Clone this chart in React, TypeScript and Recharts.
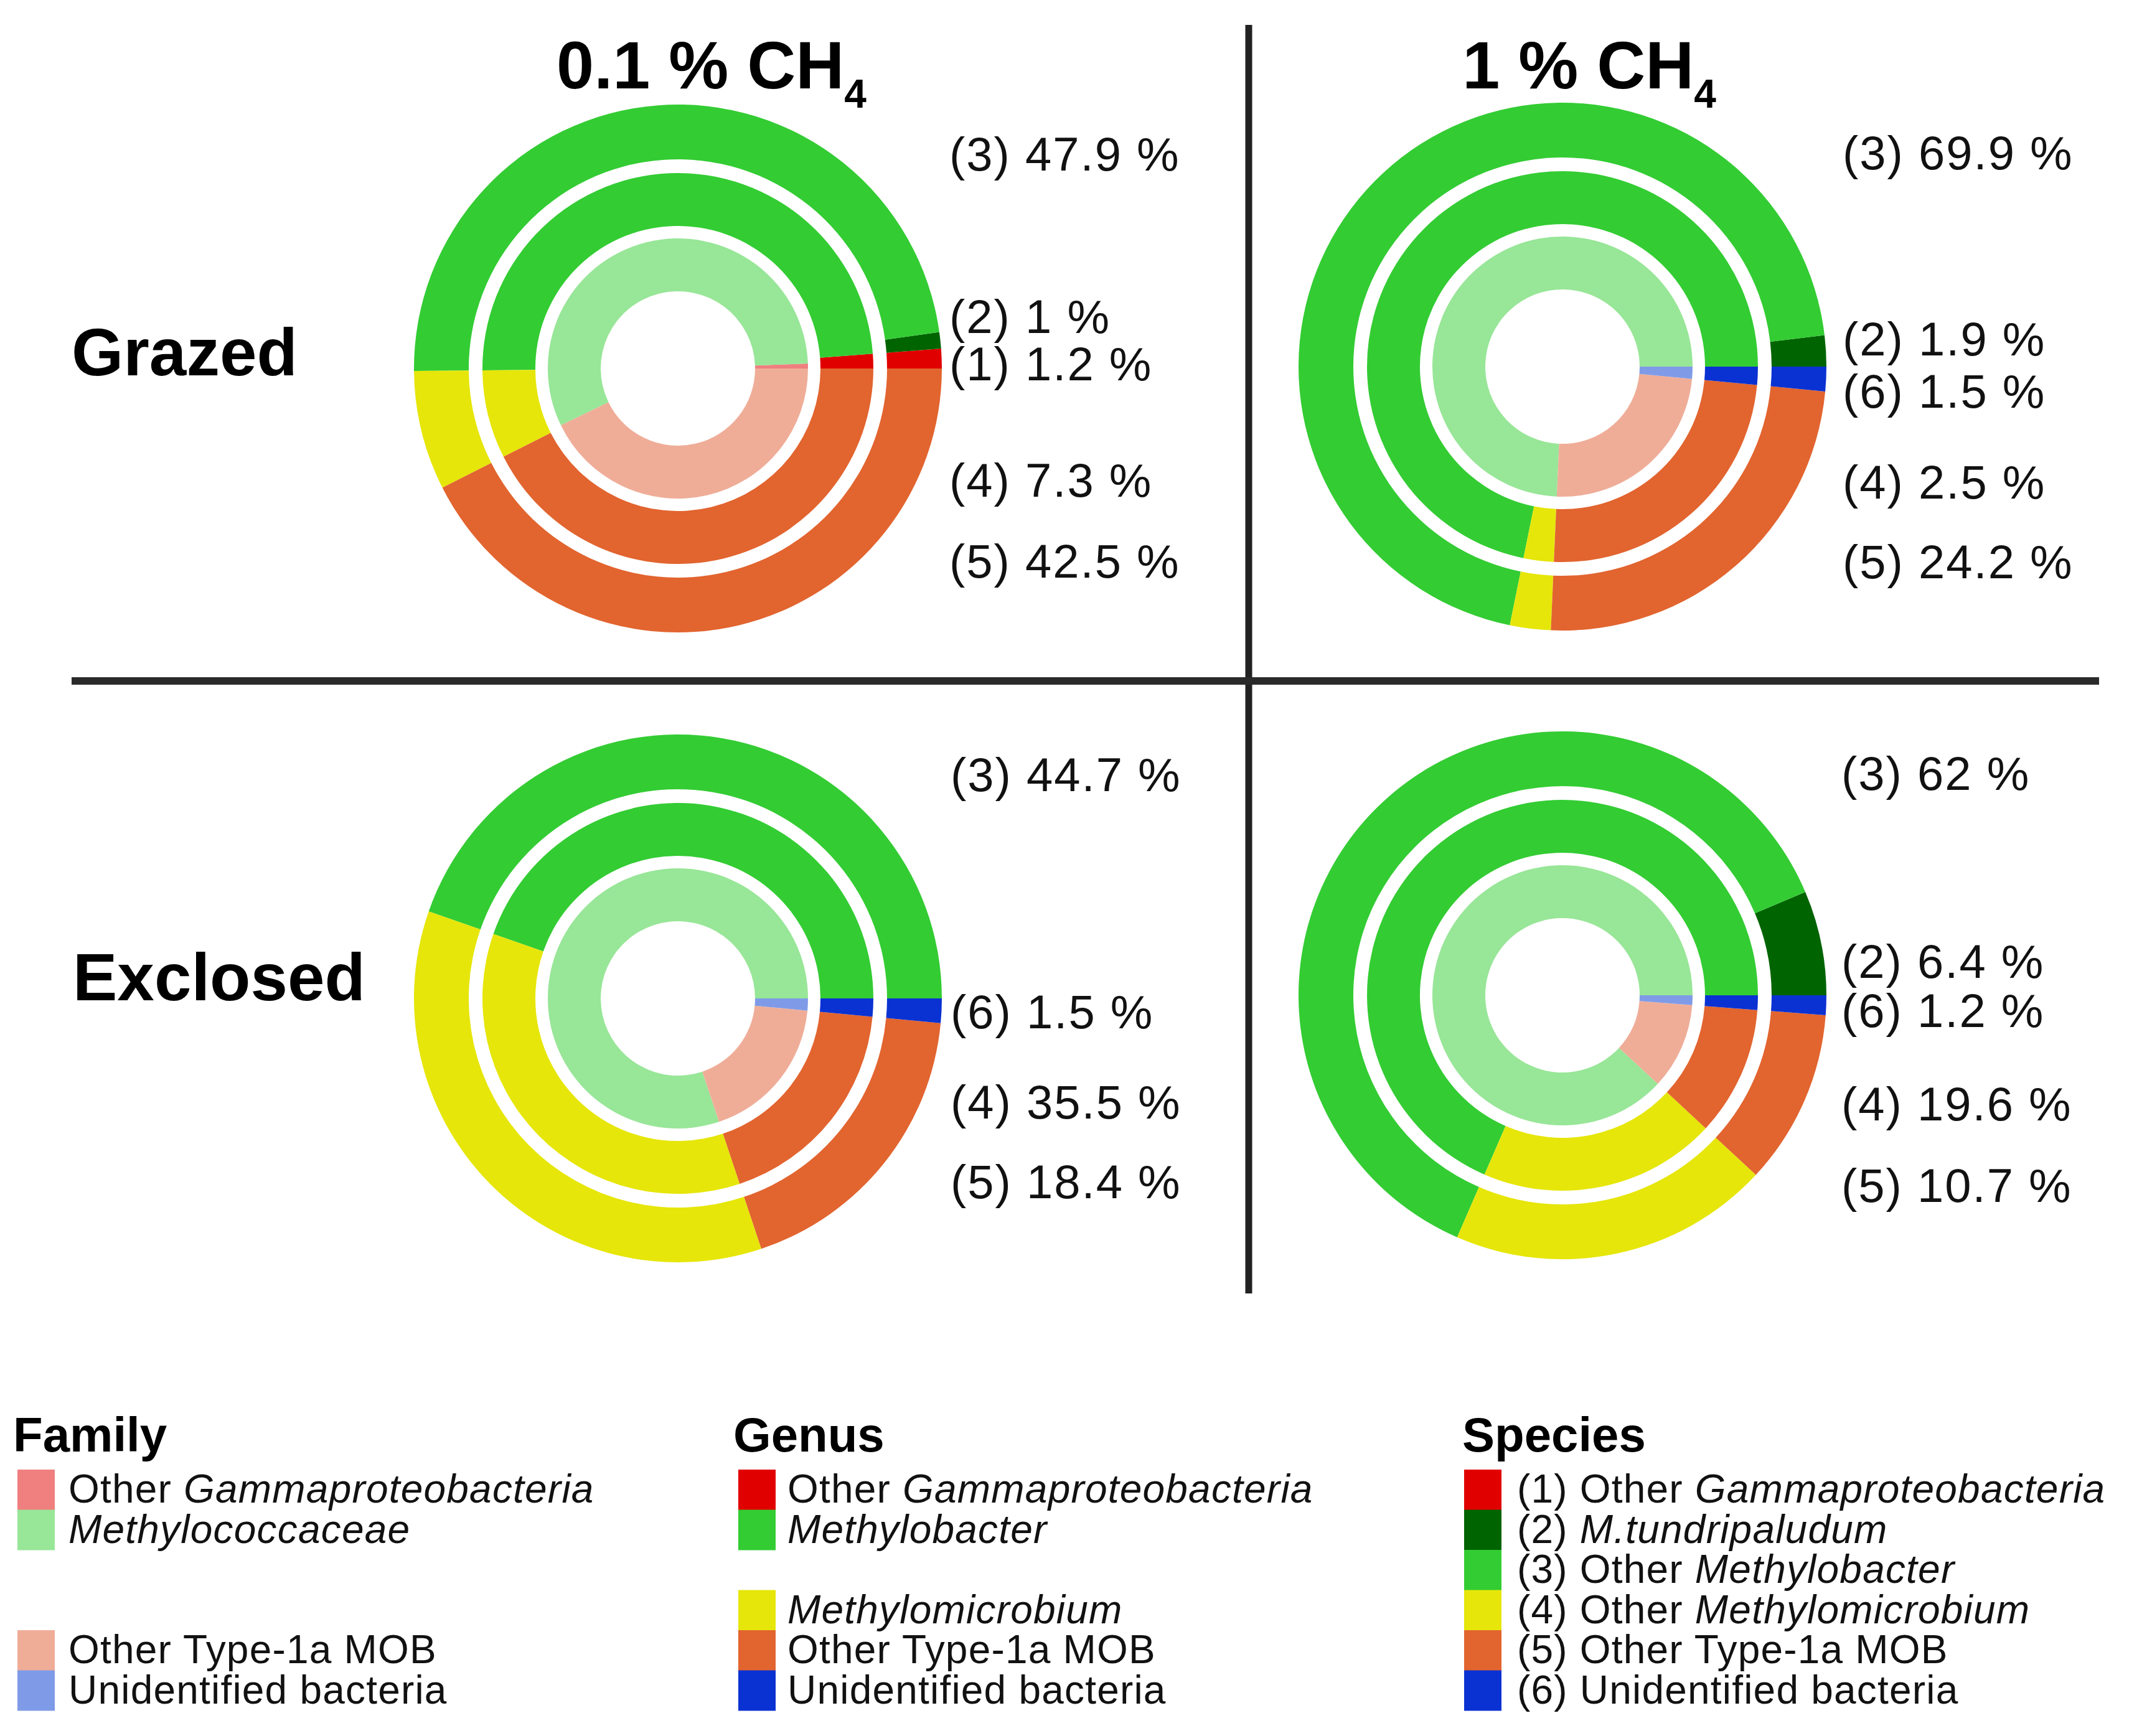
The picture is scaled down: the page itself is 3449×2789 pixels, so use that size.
import React from 'react';
import { PieChart, Pie, Cell } from 'recharts';

const W = 3449;
const H = 2789;
const FONT = '"Liberation Sans", Arial, Helvetica, sans-serif';

// ---- categories ----
const familyNames = ['Other Gammaproteobacteria', 'Methylococcaceae', 'Other Type-1a MOB', 'Unidentified bacteria'];
const familyColors = ['#f07f7f', '#98e698', '#efad98', '#7f9be8'];

const genusNames = ['Other Gammaproteobacteria', 'Methylobacter', 'Methylomicrobium', 'Other Type-1a MOB', 'Unidentified bacteria'];
const genusColors = ['#e00000', '#33cc33', '#e6e60a', '#e2642f', '#0a32d2'];

const speciesNames = [
  '(1) Other Gammaproteobacteria',
  '(2) M.tundripaludum',
  '(3) Other Methylobacter',
  '(4) Other Methylomicrobium',
  '(5) Other Type-1a MOB',
  '(6) Unidentified bacteria',
];
const speciesColors = ['#e00000', '#006400', '#33cc33', '#e6e60a', '#e2642f', '#0a32d2'];

// ---- values (%) ----
const grazed01Species = [1.2, 1, 47.9, 7.3, 42.5, 0];
const grazed1Species = [0, 1.9, 69.9, 2.5, 24.2, 1.5];
const exclosed01Species = [0, 0, 44.7, 35.5, 18.4, 1.5];
const exclosed1Species = [0, 6.4, 62, 19.6, 10.7, 1.2];

const grazed01Genus = [1.2, 48.9, 7.3, 42.5, 0];
const grazed1Genus = [0, 71.8, 2.5, 24.2, 1.5];
const exclosed01Genus = [0, 44.7, 35.5, 18.4, 1.5];
const exclosed1Genus = [0, 68.4, 19.6, 10.7, 1.2];

const grazed01Family = [0.6, 56.2, 42.5, 0];
const grazed1Family = [0, 74.3, 24.2, 1.5];
const exclosed01Family = [0, 80.2, 18.4, 1.5];
const exclosed1Family = [0, 88.0, 10.7, 1.2];

const columnTitles = ['0.1 % CH', '1 % CH'];
const rowTitles = ['Grazed', 'Exclosed'];

// ---- layout (positions only) ----
const RINGS = {
  inner: [124, 209],
  middle: [229, 314],
  outer: [336, 424],
};

const panels = [
  { cx: 1089, cy: 592, species: grazed01Species, genus: grazed01Genus, family: grazed01Family, labelX: 1525, labelY: [584, 508, 247, 771, 901, 0] },
  { cx: 2510, cy: 589, species: grazed1Species, genus: grazed1Genus, family: grazed1Family, labelX: 2960, labelY: [0, 544, 245, 774, 902, 628] },
  { cx: 1089, cy: 1604, species: exclosed01Species, genus: exclosed01Genus, family: exclosed01Family, labelX: 1527, labelY: [0, 0, 1244, 1770, 1898, 1625] },
  { cx: 2510, cy: 1599, species: exclosed1Species, genus: exclosed1Genus, family: exclosed1Family, labelX: 2958, labelY: [0, 1544, 1242, 1773, 1904, 1623] },
];

const toData = (names: string[], values: number[], colors: string[]) =>
  names.map((n, i) => ({ name: n, value: values[i], color: colors[i] }));

function renderItalic(text: string) {
  const italicWords = ['Gammaproteobacteria', 'Methylococcaceae', 'Methylobacter', 'Methylomicrobium', 'M.tundripaludum'];
  for (const w of italicWords) {
    const idx = text.indexOf(w);
    if (idx >= 0) {
      return (
        <>
          <tspan>{text.slice(0, idx)}</tspan>
          <tspan fontStyle="italic">{w}</tspan>
          <tspan>{text.slice(idx + w.length)}</tspan>
        </>
      );
    }
  }
  return <tspan>{text}</tspan>;
}

const LEG_TOP = 2361;
const ROW_H = 64.5;
const legendCols = [
  { title: 'Family', titleX: 21, swX: 28, textX: 110, names: familyNames, colors: familyColors, rows: [0, 1, 4, 5] },
  { title: 'Genus', titleX: 1178, swX: 1186, textX: 1265, names: genusNames, colors: genusColors, rows: [0, 1, 3, 4, 5] },
  { title: 'Species', titleX: 2349, swX: 2352, textX: 2437, names: speciesNames, colors: speciesColors, rows: [0, 1, 2, 3, 4, 5] },
];

export default function App() {
  return (
    <div style={{ position: 'absolute', left: 0, top: 0, width: W, height: H, background: '#fff' }}>
      <PieChart width={W} height={H} margin={{ top: 0, right: 0, bottom: 0, left: 0 }}>
        {panels.map((p, pi) => [
          <Pie
            key={`f${pi}`}
            data={toData(familyNames, p.family, familyColors)}
            dataKey="value"
            cx={p.cx}
            cy={p.cy}
            innerRadius={RINGS.inner[0]}
            outerRadius={RINGS.inner[1]}
            startAngle={0}
            endAngle={360}
            stroke="none"
            isAnimationActive={false}
          >
            {familyColors.map((c, i) => (
              <Cell key={i} fill={c} />
            ))}
          </Pie>,
          <Pie
            key={`g${pi}`}
            data={toData(genusNames, p.genus, genusColors)}
            dataKey="value"
            cx={p.cx}
            cy={p.cy}
            innerRadius={RINGS.middle[0]}
            outerRadius={RINGS.middle[1]}
            startAngle={0}
            endAngle={360}
            stroke="none"
            isAnimationActive={false}
          >
            {genusColors.map((c, i) => (
              <Cell key={i} fill={c} />
            ))}
          </Pie>,
          <Pie
            key={`s${pi}`}
            data={toData(speciesNames, p.species, speciesColors)}
            dataKey="value"
            cx={p.cx}
            cy={p.cy}
            innerRadius={RINGS.outer[0]}
            outerRadius={RINGS.outer[1]}
            startAngle={0}
            endAngle={360}
            stroke="none"
            isAnimationActive={false}
          >
            {speciesColors.map((c, i) => (
              <Cell key={i} fill={c} />
            ))}
          </Pie>,
        ])}
      </PieChart>

      <svg
        width={W}
        height={H}
        style={{ position: 'absolute', left: 0, top: 0, pointerEvents: 'none' }}
        fontFamily={FONT}
      >
        {/* divider lines */}
        <line x1={2006} y1={40} x2={2006} y2={2078} stroke="#222" strokeWidth={11} />
        <line x1={115} y1={1094} x2={3372} y2={1094} stroke="#2a2a2a" strokeWidth={12} />

        {/* column titles */}
        {columnTitles.map((t, i) => (
          <text key={t} x={i === 0 ? 1143 : 2553} y={142} textAnchor="middle" fontSize={108} fontWeight="bold" fill="#000">
            {t}
            <tspan fontSize={64} dy={31}>4</tspan>
          </text>
        ))}

        {/* row titles */}
        {rowTitles.map((t, i) => (
          <text key={t} x={i === 0 ? 115 : 117} y={i === 0 ? 603 : 1607} fontSize={107} fontWeight="bold" fill="#000">
            {t}
          </text>
        ))}

        {/* species labels */}
        {panels.map((p, pi) =>
          p.species.map((v, si) =>
            v > 0 ? (
              <text
                key={`l${pi}-${si}`}
                x={p.labelX}
                y={p.labelY[si]}
                dominantBaseline="central"
                fontSize={76}
                letterSpacing={2}
                fill="#111"
              >
                {`(${si + 1}) ${v} %`}
              </text>
            ) : null
          )
        )}

        {/* legend */}
        {legendCols.map((col) => (
          <g key={col.title}>
            <text x={col.titleX} y={2332} fontSize={78} fontWeight="bold" fill="#000">
              {col.title}
            </text>
            {col.names.map((n, i) => {
              const top = LEG_TOP + col.rows[i] * ROW_H;
              return (
                <g key={n}>
                  <rect x={col.swX} y={top} width={60} height={ROW_H + 0.5} fill={col.colors[i]} />
                  <text x={col.textX} y={top + 53} fontSize={64} letterSpacing={1.2} fill="#111">
                    {renderItalic(n)}
                  </text>
                </g>
              );
            })}
          </g>
        ))}
      </svg>
    </div>
  );
}
